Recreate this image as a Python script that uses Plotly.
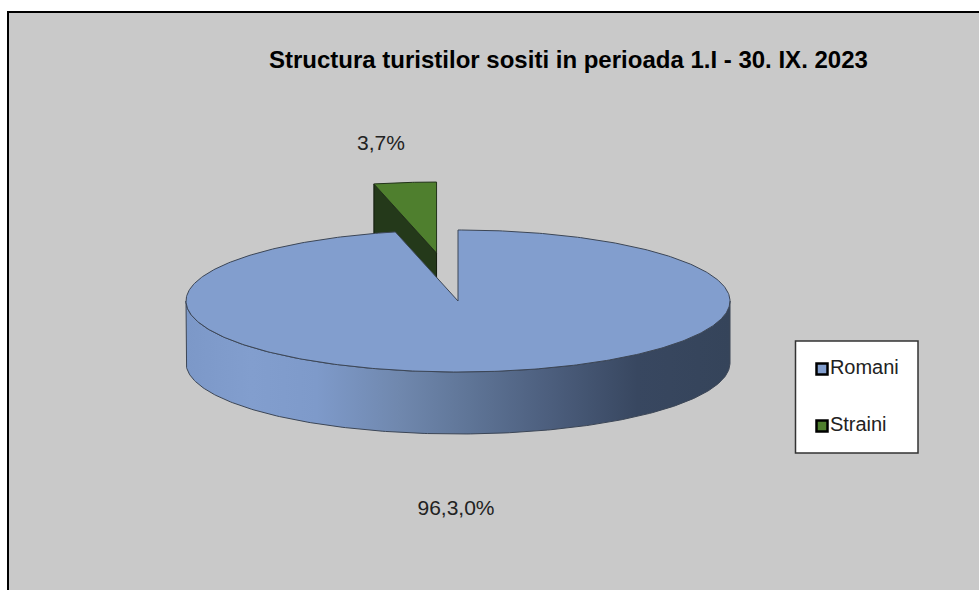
import numpy as np
import plotly.graph_objects as go

# --- data ---
CATEGORIES = ["Romani", "Straini"]
SHARES = [96.3, 3.7]
LABELS = ["96,3,0%", "3,7%"]
TITLE = "Structura turistilor sositi in perioada 1.I - 30. IX. 2023"

# --- style / geometry ---
W, H = 979, 590
BG = "#C9C9C9"
TOP = ["#829ECE", "#4F7F2E"]
SIDE_GREEN = "#24391A"
EDGE = "#3C4656"
CX, CY, RX, RY, DEPTH = 458, 301, 272, 71, 62
EXPLODE = 0.68
FONT = "Liberation Sans"

shares = np.array(SHARES, dtype=float)
sweep_blue = 360 * shares[0] / shares.sum()
sweep_green = 360 * shares[1] / shares.sum()


def rim(a0, a1, n=240, ox=0.0, oy=0.0, dz=0.0):
    t = np.radians(np.linspace(a0, a1, n))
    return ox + CX + RX * np.sin(t), oy + CY - RY * np.cos(t) + dz


fig = go.Figure()


def poly(x, y, fill, line=EDGE, width=1, **kw):
    fig.add_trace(go.Scatter(x=list(x), y=list(y), mode="lines", fill="toself",
                             fillcolor=fill, line=dict(color=line, width=width),
                             hoverinfo="skip", showlegend=False, **kw))


# exploded slice
mid = np.radians(sweep_blue + sweep_green / 2)
ox, oy = EXPLODE * RX * np.sin(mid), -EXPLODE * RY * np.cos(mid)
gx, gy = rim(sweep_blue, 360, 30, ox, oy)
ax, ay = CX + ox, CY + oy
poly([ax, gx[0], gx[0], ax, ax], [ay, gy[0], gy[0] + DEPTH, ay + DEPTH, ay], SIDE_GREEN, "#111A0B")
poly([ax, *gx, ax], [ay, *gy, ay], TOP[1], "#22331A")

# wall of the large slice
sx, sy = rim(90, 270, 240)
bx, by = rim(270, 90, 240, dz=DEPTH)
fig.add_trace(go.Scatter(
    x=[*sx, *bx, sx[0]], y=[*sy, *by, sy[0]], mode="lines", fill="toself",
    line=dict(color=EDGE, width=1), hoverinfo="skip", showlegend=False,
    fillgradient=dict(type="horizontal", colorscale=[
        [0.00, "#7C98C8"], [0.12, "#829ECE"], [0.24, "#7E9ACA"], [0.39, "#7088AE"],
        [0.52, "#5F7597"], [0.67, "#4C5E7D"], [0.83, "#384760"], [1.00, "#35445A"]]),
))

# top of the large slice
tx, ty = rim(0, sweep_blue, 480)
poly([CX, *tx, CX], [CY, *ty, CY], TOP[0])

# data labels
fig.add_trace(go.Scatter(
    x=[456, 381], y=[510, 145], mode="text", text=LABELS,
    textfont=dict(family=FONT, size=21, color="#222222"),
    hoverinfo="skip", showlegend=False))

# legend box contents
LX, LY = [822, 822], [369, 426]
for i, name in enumerate(CATEGORIES):
    fig.add_trace(go.Scatter(
        x=[LX[i]], y=[LY[i]], mode="markers+text", name=name, text=[name],
        textposition="middle right",
        marker=dict(symbol="square", size=11, color=TOP[i], line=dict(color="#000", width=2.5)),
        textfont=dict(family=FONT, size=20, color="#222222"),
        hoverinfo="skip", showlegend=False))

fig.update_layout(
    width=W, height=H, paper_bgcolor="white", plot_bgcolor=BG, showlegend=False,
    margin=dict(l=9, r=0, t=13, b=0),
    title=dict(text=f"<b>{TITLE}</b>", x=269 / W, y=1 - 60 / H, xanchor="left", yanchor="middle",
               font=dict(family=FONT, size=24, color="#000")),
    xaxis=dict(range=[9, W], visible=True, showticklabels=False, showgrid=False, zeroline=False,
               ticks="", side="top", showline=True, linecolor="black", linewidth=2),
    yaxis=dict(range=[H, 13], showticklabels=False, showgrid=False, zeroline=False,
               ticks="", showline=True, linecolor="black", linewidth=2),
    shapes=[dict(type="rect", xref="x", yref="y", x0=795.5, x1=918, y0=341, y1=453,
                 fillcolor="white", line=dict(color="#333", width=1.5), layer="below")],
)
fig.write_html("out.html", config=dict(displayModeBar=False),
               post_script="document.body.style.margin='0';")
